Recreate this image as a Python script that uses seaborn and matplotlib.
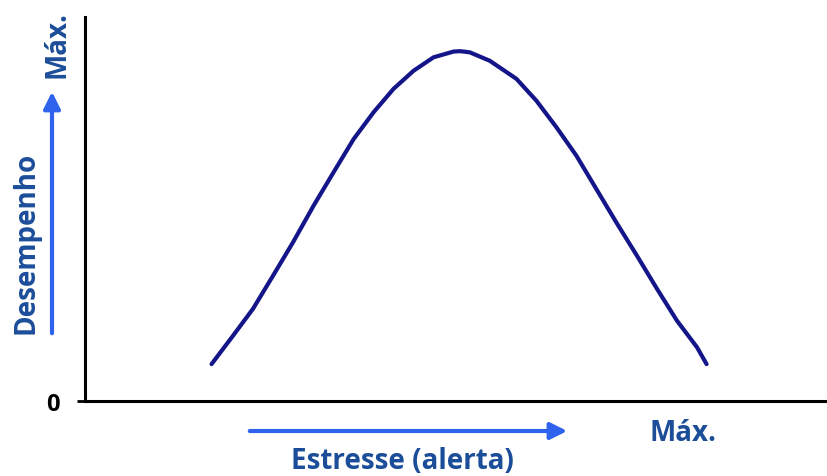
import matplotlib
matplotlib.use("Agg")
import matplotlib.pyplot as plt
import seaborn as sns
import pandas as pd

# Stress (x) vs performance (y) (0-100 scale)
stress = [17.1, 20.0, 22.7, 25.4, 28.1, 30.9, 33.6, 36.3, 39.0, 41.7, 44.4, 47.1, 49.8, 50.7,
          52.0, 54.7, 58.3, 61.0, 63.7, 66.4, 69.1, 71.8, 74.6, 77.3, 80.0, 82.7, 84.0]
performance = [9.6, 17.0, 24.0, 32.6, 41.3, 50.9, 59.6, 68.2, 75.2, 81.3, 86.0, 89.5, 91.0, 91.1,
               90.8, 88.6, 83.9, 78.2, 71.3, 63.9, 55.2, 46.5, 37.8, 29.2, 20.9, 14.0, 9.6]
y_tick_labels = ["0"]
x_label = "Estresse (alerta)"
y_label = "Desempenho"
max_label = "Máx."

sns.set_theme(style="white")
plt.rcParams["font.family"] = ["Open Sans", "DejaVu Sans"]

W, H = 827, 477
fig = plt.figure(figsize=(W / 100, H / 100), dpi=100)
ax = fig.add_axes([85 / W, (H - 402) / H, 740 / W, 384 / H])

df = pd.DataFrame({"stress": stress, "performance": performance})
sns.lineplot(data=df, x="stress", y="performance", ax=ax, color="#15158a",
             linewidth=3.0, sort=False, estimator=None)
ax.lines[0].set_solid_capstyle("round")
ax.lines[0].set_solid_joinstyle("round")

ax.set_xlim(0, 100)
ax.set_ylim(0, 100)
ax.set_xlabel("")
ax.set_ylabel("")
ax.set_xticks([])
ax.set_yticks([0])
ax.set_yticklabels(y_tick_labels, fontsize=17, fontweight="bold", color="black")
ax.tick_params(axis="y", length=6, width=2, color="black", pad=12, left=True)

for s in ["top", "right"]:
    ax.spines[s].set_visible(False)
for s in ["left", "bottom"]:
    ax.spines[s].set_color("black")
    ax.spines[s].set_linewidth(2.2)

text_color = "#1b4d99"
arrow_color = "#2f63ee"

def px(x, y):
    return (x / W, 1 - y / H)

# Labels
fig.text(*px(57, 45), max_label, rotation=90, ha="center", va="center",
         fontsize=20, fontweight="bold", color=text_color)
fig.text(*px(26, 243), y_label, rotation=90, ha="center", va="center",
         fontsize=20, fontweight="bold", color=text_color)
fig.text(*px(683, 434), max_label, ha="center", va="center",
         fontsize=20, fontweight="bold", color=text_color)
fig.text(*px(402, 462), x_label, ha="center", va="center",
         fontsize=20, fontweight="bold", color=text_color)

# Arrows
fig.patches.append(matplotlib.patches.FancyArrowPatch(
    px(52, 337), px(52, 90), transform=fig.transFigure,
    arrowstyle="-|>,head_length=10,head_width=5", mutation_scale=1,
    color=arrow_color, linewidth=3))
fig.patches.append(matplotlib.patches.FancyArrowPatch(
    px(247, 432), px(570, 432), transform=fig.transFigure,
    arrowstyle="-|>,head_length=10,head_width=5", mutation_scale=1,
    color=arrow_color, linewidth=3))

fig.savefig("out.png", dpi=100, facecolor="white")
